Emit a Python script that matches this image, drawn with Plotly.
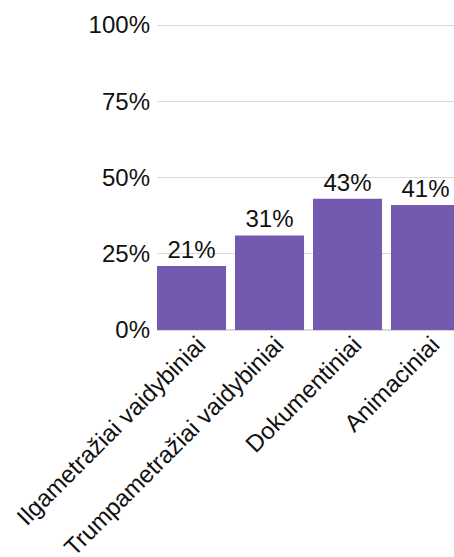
import plotly.graph_objects as go

categories = ["Ilgametražiai vaidybiniai", "Trumpametražiai vaidybiniai", "Dokumentiniai", "Animaciniai"]
values = [21, 31, 43, 41]
tick_vals = [0, 25, 50, 75, 100]
tick_text = ["0%", "25%", "50%", "75%", "100%"]

font_family = "Liberation Sans, Arial, sans-serif"

fig = go.Figure(
    go.Bar(
        x=categories,
        y=values,
        width=0.885,
        marker=dict(color="#7459b1", line=dict(width=0)),
        text=[f"{v}%" for v in values],
        textposition="outside",
        textfont=dict(size=24, color="#111111", family=font_family),
        cliponaxis=False,
    )
)

fig.update_layout(
    width=454,
    height=557,
    margin=dict(l=157, r=0, t=19, b=227, autoexpand=False),
    plot_bgcolor="white",
    paper_bgcolor="white",
    showlegend=False,
    font=dict(family=font_family, size=24, color="#111111"),
    xaxis=dict(
        range=[-0.4425, 3.365],
        tickangle=-45,
        showgrid=False,
        showline=False,
        ticks="",
        automargin=False,
        ticklabelshift=7,
        ticklabelstandoff=-5,
        tickfont=dict(size=24),
    ),
    yaxis=dict(
        range=[0, 101.97],
        tickvals=tick_vals,
        ticktext=tick_text,
        showgrid=True,
        gridcolor="#d9d9d9",
        gridwidth=1,
        zeroline=True,
        zerolinecolor="#d9d9d9",
        ticks="",
        automargin=False,
        ticklabelstandoff=6,
        tickfont=dict(size=24),
    ),
)

fig.write_html("out.html")
